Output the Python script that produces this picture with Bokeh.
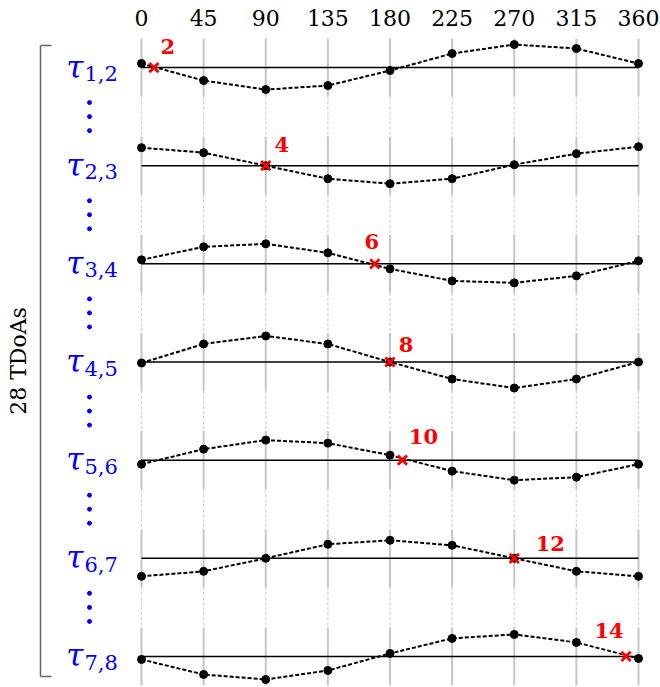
import math
from bokeh.plotting import figure
from bokeh.layouts import column
from bokeh.models import Range1d, FixedTicker, Spacer
from bokeh.core.properties import value
from bokeh.embed import file_html
from bokeh.resources import INLINE

# ---------------- data ----------------
ANGLES = [0, 45, 90, 135, 180, 225, 270, 315, 360]
TICK_LABELS = ["0", "45", "90", "135", "180", "225", "270", "315", "360"]
PAIRS = ["1,2", "2,3", "3,4", "4,5", "5,6", "6,7", "7,8"]

TAU_12 = [4, -13, -22, -18, -3, 14, 23, 19, 4]
TAU_23 = [18, 13, 0, -13, -18, -13, 1, 12, 19]
TAU_34 = [4, 17, 20, 11, -5, -17, -19, -12, 3]
TAU_45 = [-1, 18, 26, 18, 0, -17, -26, -17, 0]
TAU_56 = [-4, 11, 20, 17, 5, -11, -20, -17, -4]
TAU_67 = [-18, -13, 0, 14, 18, 13, 0, -13, -18]
TAU_78 = [-3, -18, -23, -14, 3, 18, 22, 14, -2]
SERIES = [TAU_12, TAU_23, TAU_34, TAU_45, TAU_56, TAU_67, TAU_78]

CROSS_ANGLE = [9, 90, 169, 180, 189, 270, 351]
CROSS_LABEL = ["2", "4", "6", "8", "10", "12", "14"]
TOTAL_LABEL = "28 TDoAs"

# ---------------- layout / style ----------------
PAGE_W, PAGE_H = 660, 687
SPACER_H = 6
W, H = PAGE_W, PAGE_H - SPACER_H
FRAME_TOP = 34.0            # page y of the frame top (spacer + axis)
X0_PAGE, X360_PAGE = 141.0, 638.0
XS = (X360_PAGE - X0_PAGE) / 360.0
FIRST_ROW = 68.0            # page y of first baseline
ROW_GAP = 98.0
LABEL_DX = [14, 16, -3, 16, 21, 36, -17]
LABEL_DY = [-21, -21, -22, -18, -24, -15, -26]

def px_x(page_x):
    return (page_x - X0_PAGE) / XS

p = figure(width=W, height=H, output_backend="svg", toolbar_location=None,
           x_range=Range1d(px_x(0), px_x(PAGE_W)), y_range=Range1d(-PAGE_H, -FRAME_TOP),
           x_axis_location="above", y_axis_location=None,
           min_border_left=0, min_border_right=0, min_border_top=0, min_border_bottom=0)
p.outline_line_color = None
p.xgrid.visible = False
p.ygrid.visible = False
p.background_fill_color = "white"
p.border_fill_color = "white"

ax = p.xaxis[0]
ax.ticker = FixedTicker(ticks=ANGLES)
ax.major_label_overrides = {a: t for a, t in zip(ANGLES, TICK_LABELS)}
ax.axis_line_color = None
ax.major_tick_line_color = None
ax.minor_tick_line_color = None
ax.major_label_text_font = "DejaVu Serif"
ax.major_label_text_font_size = "22px"
ax.major_label_text_color = "black"
ax.major_label_standoff = 2

bases = [-(FIRST_ROW + ROW_GAP * k) for k in range(len(SERIES))]
PAD = 29

# vertical grid: solid near each row, dashed between rows
for k, b in enumerate(bases):
    p.segment(x0=ANGLES, x1=ANGLES, y0=[b + PAD] * len(ANGLES), y1=[b - PAD] * len(ANGLES),
              line_color="#c6c6c6", line_width=2)
    if k + 1 < len(bases):
        nb = bases[k + 1]
        p.segment(x0=ANGLES, x1=ANGLES, y0=[b - PAD] * len(ANGLES), y1=[nb + PAD] * len(ANGLES),
                  line_color="#d4d4d4", line_width=1.3, line_dash="3 2")

# rows
for k, (b, vals) in enumerate(zip(bases, SERIES)):
    ys = [b + v for v in vals]
    p.line(x=[ANGLES[0], ANGLES[-1]], y=[b, b], line_color="black", line_width=1.5)
    p.line(x=ANGLES, y=ys, line_color="black", line_width=2, line_dash="4 2")
    p.scatter(x=ANGLES, y=ys, size=8, fill_color="black", line_color="black")

# zero-crossing markers
cross_y = bases
p.scatter(x=CROSS_ANGLE, y=cross_y, marker="x", size=13, line_color="red", line_width=2.8)
p.text(x=CROSS_ANGLE, y=cross_y, text=CROSS_LABEL, x_offset=LABEL_DX, y_offset=LABEL_DY,
       text_font=value("DejaVu Serif"), text_font_style="bold", text_font_size="21px",
       text_color="red", text_align="center", text_baseline="middle")

# tau labels
p.text(x=[px_x(83)] * len(bases), y=[b + 1 for b in bases], text=["τ"] * len(bases),
       text_font=value("DejaVu Serif"), text_font_style="italic", text_font_size="31px",
       text_color="blue", text_align="right", text_baseline="alphabetic")
p.text(x=[px_x(84)] * len(bases), y=[b - 6 for b in bases], text=PAIRS,
       text_font=value("DejaVu Serif"), text_font_size="21px",
       text_color="blue", text_align="left", text_baseline="alphabetic")

# vertical ellipsis between rows
dx, dy = [], []
for k in range(len(bases) - 1):
    mid = (bases[k] + bases[k + 1]) / 2
    for d in (-14, 0, 14):
        dx.append(px_x(89))
        dy.append(mid + d)
p.scatter(x=dx, y=dy, size=4, fill_color="blue", line_color="blue")

# bracket
bx = px_x(40)
bxr = px_x(51)
btop = bases[0] + 22
bbot = bases[-1] - 20
p.segment(x0=[bx, bx, bx], x1=[bx, bxr, bxr], y0=[btop, btop, bbot], y1=[bbot, btop, bbot],
          line_color="#666666", line_width=1.5)
p.text(x=[px_x(18)], y=[(btop + bbot) / 2], text=[TOTAL_LABEL], angle=math.pi / 2,
       text_font=value("DejaVu Serif"), text_font_size="22px", text_color="black",
       text_align="center", text_baseline="middle")

layout = column(Spacer(width=W, height=SPACER_H), p, spacing=0)
open("out.html", "w").write(file_html(layout, INLINE))
